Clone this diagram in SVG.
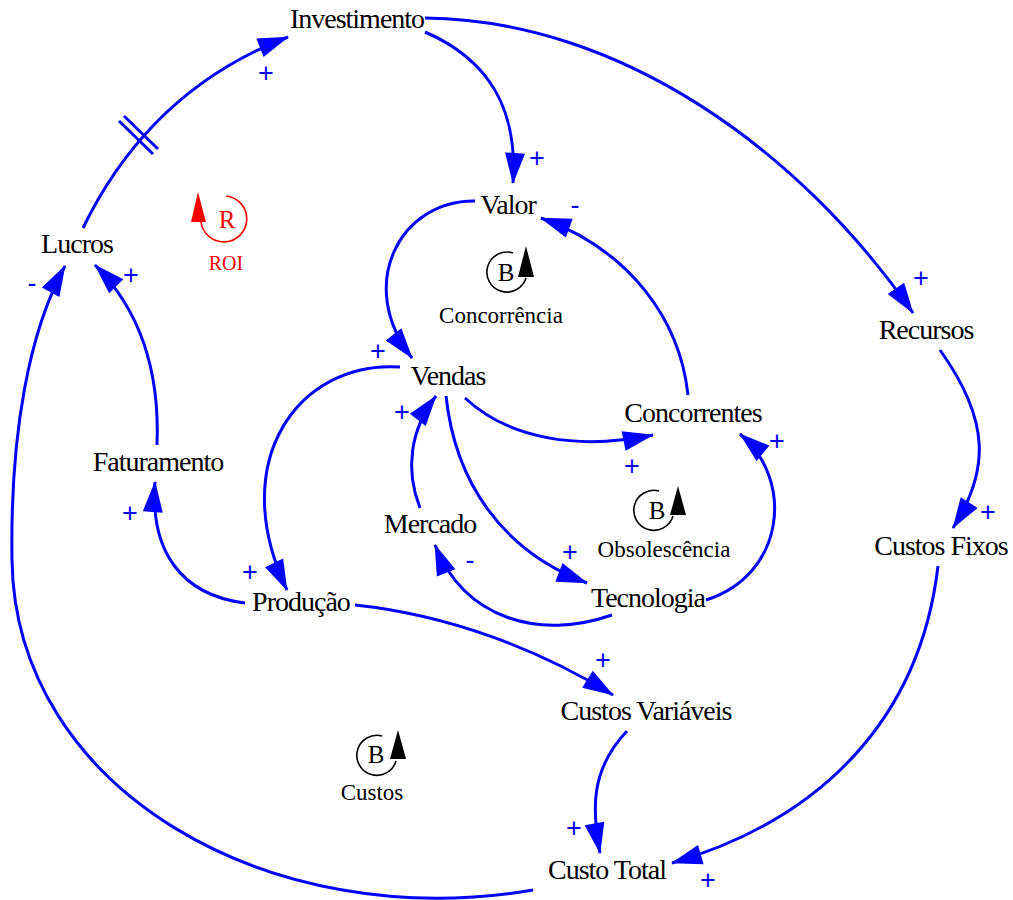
<svg xmlns="http://www.w3.org/2000/svg" width="1013" height="900" viewBox="0 0 1013 900">
  <style>
    .node { font-family: "Liberation Serif", "Times New Roman", serif; font-size: 28px; letter-spacing: -1px; fill: #000; text-anchor: middle; }
    .link { fill: none; stroke: #0000ff; stroke-width: 3; marker-end: url(#arr); }
    .pol { font-family: "Liberation Sans", Arial, sans-serif; font-size: 27px; fill: #0000ff; text-anchor: middle; dominant-baseline: central; }
    .loopname { font-family: "Liberation Serif", "Times New Roman", serif; font-size: 23px; fill: #000; text-anchor: middle; }
    .looplet { font-family: "Liberation Serif", "Times New Roman", serif; font-size: 25px; fill: #000; text-anchor: middle; }
    .looparc { fill: none; stroke: #000; stroke-width: 1.6; }
    .delay { stroke: #0000ff; stroke-width: 3; }
  </style>
  <defs>
    <marker id="arr" markerUnits="userSpaceOnUse" markerWidth="31" markerHeight="20" refX="30" refY="10" orient="auto" overflow="visible">
      <path d="M0,0 L31,10 L0,20 z" fill="#0000ff"/>
    </marker>
  </defs>
  <rect width="1013" height="900" fill="#fff"/>

  <!-- causal links -->
  <g id="connectors">
    <path class="link" d="M83,228 Q150,90 288,37"/>
    <path class="link" d="M425,32 C490,60 518,110 513,183"/>
    <path class="link" d="M425,18 C620,20 800,150 913,313"/>
    <path class="link" d="M475,201 C400,200 355,285 412,358"/>
    <path class="link" d="M688,395 C680,320 630,250 541,218"/>
    <path class="link" d="M465,398 C510,440 580,450 653,435"/>
    <path class="link" d="M400,367 C300,360 225,460 287,590"/>
    <path class="link" d="M420,508 C405,470 410,430 436,396"/>
    <path class="link" d="M446,396 C455,480 500,550 587,583"/>
    <path class="link" d="M612,615 C540,640 465,620 435,545"/>
    <path class="link" d="M706,600 C785,575 795,480 740,434"/>
    <path class="link" d="M157,445 C160,370 140,310 95,265"/>
    <path class="link" d="M533,890 C270,935 15,790 12,560 C10,430 30,330 65,266"/>
    <path class="link" d="M245,603 C180,595 150,550 155,482"/>
    <path class="link" d="M355,605 C450,615 540,650 613,695"/>
    <path class="link" d="M627,731 C590,770 592,810 600,853"/>
    <path class="link" d="M940,350 C990,420 990,470 953,528"/>
    <path class="link" d="M938,566 C920,720 820,820 672,863"/>
    <!-- delay mark on Lucros -> Investimento -->
    <line class="delay" x1="119" y1="121" x2="153" y2="154"/>
    <line class="delay" x1="124" y1="116" x2="158" y2="149"/>
  </g>

  <!-- polarities -->
  <g id="polarities">
    <text class="pol" x="266" y="73">+</text>
    <text class="pol" x="537" y="158">+</text>
    <text class="pol" x="921" y="278">+</text>
    <text class="pol" x="378" y="351">+</text>
    <text class="pol" x="632" y="466">+</text>
    <text class="pol" x="250" y="572">+</text>
    <text class="pol" x="402" y="412">+</text>
    <text class="pol" x="570" y="552">+</text>
    <text class="pol" x="777" y="441">+</text>
    <text class="pol" x="131" y="275">+</text>
    <text class="pol" x="130" y="513">+</text>
    <text class="pol" x="603" y="660">+</text>
    <text class="pol" x="574" y="828">+</text>
    <text class="pol" x="988" y="512">+</text>
    <text class="pol" x="708" y="880">+</text>
    <text class="pol" x="575" y="205">-</text>
    <text class="pol" x="470" y="560">-</text>
    <text class="pol" x="32" y="283">-</text>
  </g>

  <!-- variables -->
  <g id="investimento"><text class="node" x="357" y="28">Investimento</text></g>
  <g id="valor"><text class="node" x="508" y="214">Valor</text></g>
  <g id="lucros"><text class="node" x="77" y="253">Lucros</text></g>
  <g id="recursos"><text class="node" x="926" y="339">Recursos</text></g>
  <g id="vendas"><text class="node" x="448" y="385">Vendas</text></g>
  <g id="concorrentes"><text class="node" x="693" y="422">Concorrentes</text></g>
  <g id="faturamento"><text class="node" x="158" y="471">Faturamento</text></g>
  <g id="mercado"><text class="node" x="430" y="533">Mercado</text></g>
  <g id="custos-fixos"><text class="node" x="941" y="555">Custos Fixos</text></g>
  <g id="tecnologia"><text class="node" x="648" y="607">Tecnologia</text></g>
  <g id="producao"><text class="node" x="301" y="611">Produção</text></g>
  <g id="custos-variaveis"><text class="node" x="646" y="720">Custos Variáveis</text></g>
  <g id="custo-total"><text class="node" x="607" y="879">Custo Total</text></g>

  <!-- loop markers -->
  <g id="loop-roi">
    <path d="M201,222 A23,23 0 1 0 226,196" fill="none" stroke="#ff0000" stroke-width="1.6"/>
    <path d="M198,192 L191,222 L206,222 z" fill="#ff0000"/>
    <text class="looplet" x="227" y="228" style="fill:#ff0000">R</text>
    <text class="loopname" x="226" y="270" style="fill:#ff0000;font-size:20px">ROI</text>
  </g>
  <g id="loop-concorrencia">
    <path class="looparc" d="M526,278 A20,20 0 1 1 513,253"/>
    <path d="M526,246 L518,277 L534,277 z" fill="#000"/>
    <text class="looplet" x="506" y="281">B</text>
    <text class="loopname" x="501" y="323">Concorrência</text>
  </g>
  <g id="loop-obsolescencia">
    <path class="looparc" d="M673,516 A20,20 0 1 1 659,491"/>
    <path d="M678,486 L670,515 L686,515 z" fill="#000"/>
    <text class="looplet" x="657" y="519">B</text>
    <text class="loopname" x="664" y="557">Obsolescência</text>
  </g>
  <g id="loop-custos">
    <path class="looparc" d="M396,761 A20,20 0 1 1 382,736"/>
    <path d="M398,730 L390,759 L406,759 z" fill="#000"/>
    <text class="looplet" x="376" y="763">B</text>
    <text class="loopname" x="372" y="800">Custos</text>
  </g>
</svg>
